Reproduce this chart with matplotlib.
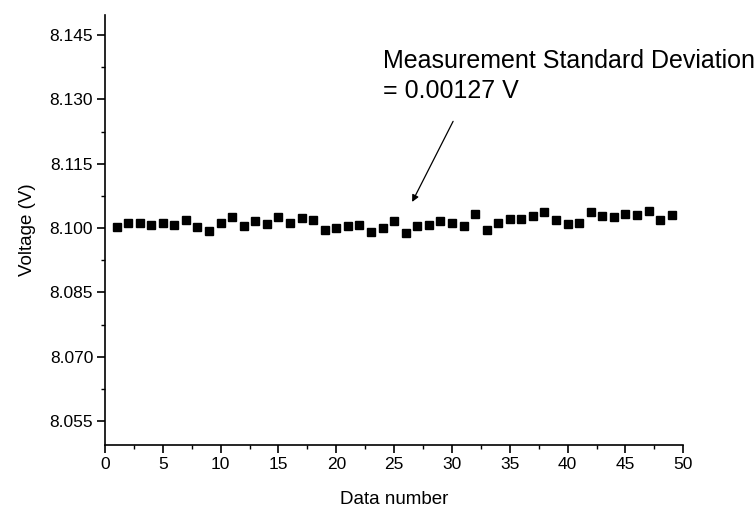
import matplotlib
matplotlib.use("Agg")
import matplotlib.pyplot as plt
from matplotlib.ticker import MultipleLocator

plt.rcParams["font.family"] = ["Liberation Sans", "DejaVu Sans"]

data_number = list(range(1, 50))
voltage = [
    8.1002, 8.1011, 8.1013, 8.1007, 8.1011, 8.1008, 8.1018, 8.1003, 8.0994, 8.1012,
    8.1026, 8.1005, 8.1017, 8.1009, 8.1026, 8.1011, 8.1024, 8.1018, 8.0995, 8.1001,
    8.1004, 8.1007, 8.0990, 8.1000, 8.1016, 8.0988, 8.1005, 8.1008, 8.1017, 8.1011,
    8.1004, 8.1033, 8.0995, 8.1011, 8.1021, 8.1021, 8.1028, 8.1037, 8.1018, 8.1010,
    8.1013, 8.1037, 8.1029, 8.1027, 8.1033, 8.1030, 8.1040, 8.1020, 8.1030,
]
y_ticks = [8.055, 8.070, 8.085, 8.100, 8.115, 8.130, 8.145]

fig = plt.figure(figsize=(7.55, 5.09), dpi=100)
ax = fig.add_axes([0.139, 0.1257, 0.766, 0.8448])

ax.plot(data_number, voltage, "s", color="black", markersize=5.3, linestyle="none")

ax.set_xlim(0, 50)
ax.set_ylim(8.0494, 8.1497)
ax.xaxis.set_major_locator(MultipleLocator(5))
ax.xaxis.set_minor_locator(MultipleLocator(2.5))
ax.set_yticks(y_ticks)
ax.set_yticklabels([f"{v:.3f}" for v in y_ticks])
ax.yaxis.set_minor_locator(MultipleLocator(0.0075))

for side in ("top", "right"):
    ax.spines[side].set_visible(False)
for side in ("left", "bottom"):
    ax.spines[side].set_linewidth(1.2)
ax.tick_params(which="major", direction="out", length=5.5, width=1.2, labelsize=12.5, pad=3)
ax.tick_params(which="minor", direction="out", length=3, width=1.0)

ax.set_xlabel("Data number", fontsize=13.5, labelpad=14)
ax.set_ylabel("Voltage (V)", fontsize=13.5, labelpad=10)

# annotation text and arrow drawn separately
ax.text(24.05, 8.1303, "Measurement Standard Deviation\n= 0.00127 V",
        fontsize=18, ha="left", va="baseline", linespacing=1.35, clip_on=False)
ax.annotate(
    "", xy=(26.56, 8.1061), xytext=(30.1, 8.1249),
    arrowprops=dict(arrowstyle="-|>", color="black", lw=0.9, mutation_scale=10,
                    shrinkA=0, shrinkB=0),
)

fig.savefig("out.png", dpi=100)
